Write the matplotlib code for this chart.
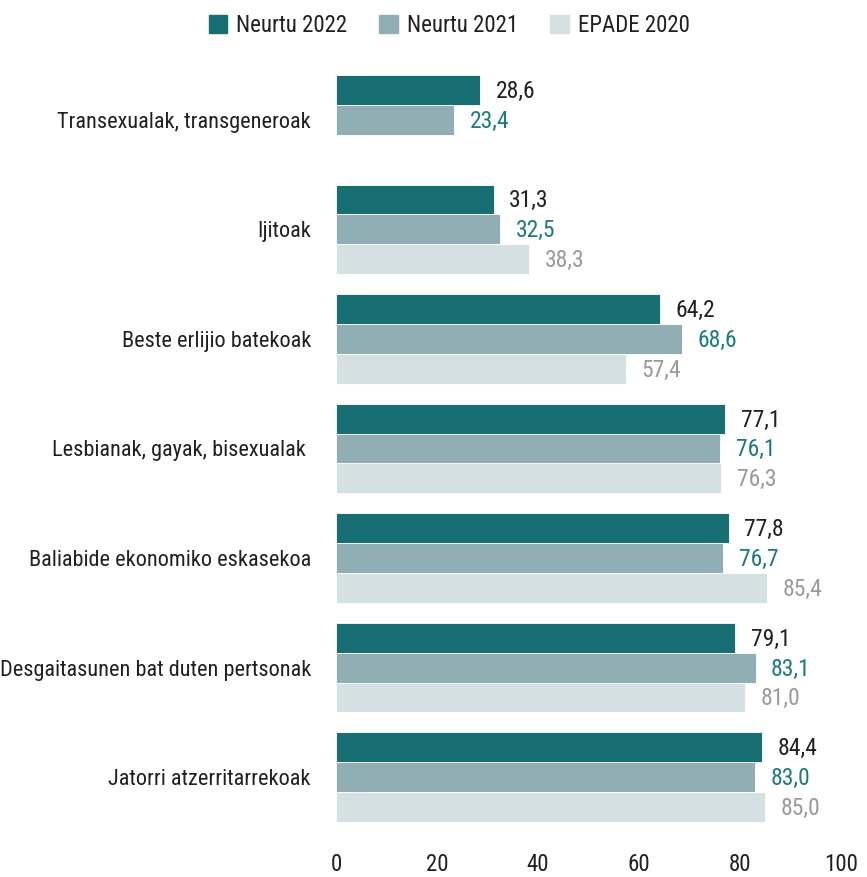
import numpy as np
import matplotlib
matplotlib.use("Agg")
import matplotlib.pyplot as plt

plt.rcParams['font.family'] = ['Roboto Condensed', 'DejaVu Sans']

categories = ["Transexualak, transgeneroak", "Ijitoak", "Beste erlijio batekoak",
              "Lesbianak, gayak, bisexualak ", "Baliabide ekonomiko eskasekoa",
              "Desgaitasunen bat duten pertsonak", "Jatorri atzerritarrekoak"]
neurtu_2022 = [28.6, 31.3, 64.2, 77.1, 77.8, 79.1, 84.4]
neurtu_2021 = [23.4, 32.5, 68.6, 76.1, 76.7, 83.1, 83.0]
epade_2020 = [None, 38.3, 57.4, 76.3, 85.4, 81.0, 85.0]
series_names = ["Neurtu 2022", "Neurtu 2021", "EPADE 2020"]

bar_colors = ["#176f74", "#90aeb3", "#d5e0e2"]
text_colors = ["#231f20", "#1b7a7d", "#9a9a9a"]

fig = plt.figure(figsize=(8.67, 8.77), dpi=100)
ax = fig.add_axes([336/867, 55/877, 505/867, 747/877])

h = 30/110
y = np.arange(len(categories))
for k, vals in enumerate([neurtu_2022, neurtu_2021, epade_2020]):
    pos = y + (k - 1) * h
    for yi, v in zip(pos, vals):
        if v is None:
            continue
        ax.barh(yi, v, height=h, color=bar_colors[k], edgecolor="white", linewidth=0.6)
        ax.annotate(f"{v:.1f}".replace(".", ","), (v, yi), xytext=(11, -1),
                    textcoords="offset points", va="center", ha="left",
                    fontsize=17, color=text_colors[k])

ax.set_xlim(0, 100)
ax.set_ylim(len(categories) - 1 + 1.5*h, -1.5*h)
ax.set_yticks(y)
ax.set_yticklabels(categories, fontsize=16, color="#231f20")
ax.set_xticks([0, 20, 40, 60, 80, 100])
ax.tick_params(axis="y", length=0, pad=18)
ax.tick_params(axis="x", length=0, pad=22, labelsize=16.5, labelcolor="#231f20")
for s in ax.spines.values():
    s.set_visible(False)

handles = [plt.Rectangle((0, 0), 1, 1, color=c) for c in bar_colors]
fig.legend(handles, series_names, loc="center", bbox_to_anchor=(0.518, 0.971), ncol=3,
           frameon=False, fontsize=16.5, handlelength=0.8, handleheight=0.8,
           handletextpad=0.4, columnspacing=1.4, labelcolor="#231f20")

fig.savefig("out.png", dpi=100)
